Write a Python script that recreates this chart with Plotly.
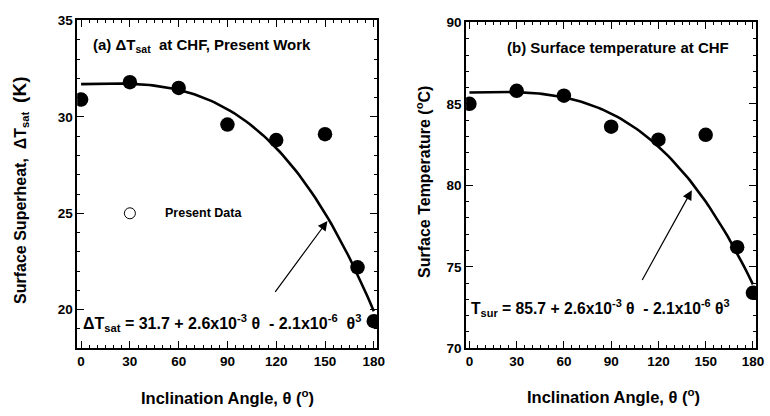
import plotly.graph_objects as go

# ---- data ----
angle = [0, 30, 60, 90, 120, 150, 170, 180]
dT_sat = [30.9, 31.8, 31.5, 29.6, 28.8, 29.1, 22.2, 19.4]
T_sur = [85.0, 85.8, 85.5, 83.6, 82.8, 83.1, 76.2, 73.4]
# fit coefficients as printed in the chart: c0 + c1*theta + c3*theta^3
fit_a = [31.7, 2.6e-3, -2.1e-6]
fit_b = [85.7, 2.6e-3, -2.1e-6]
fit_theta = list(range(0, 181, 2))
x_ticks = [0, 30, 60, 90, 120, 150, 180]
y_ticks_a = [20, 25, 30, 35]
y_ticks_b = [70, 75, 80, 85, 90]

def fit(c, t):
    return c[0] + c[1] * t + c[2] * t ** 3

FONT = "Liberation Sans, Arial, sans-serif"
W, H = 770, 416

fig = go.Figure()
fig.add_trace(go.Scatter(x=fit_theta, y=[fit(fit_a, t) for t in fit_theta], mode="lines",
                         line=dict(color="black", width=2.6), xaxis="x", yaxis="y", showlegend=False))
fig.add_trace(go.Scatter(x=angle, y=dT_sat, mode="markers",
                         marker=dict(color="black", size=14.5), xaxis="x", yaxis="y", showlegend=False))
fig.add_trace(go.Scatter(x=[30], y=[25], mode="markers",
                         marker=dict(color="white", size=11, line=dict(color="black", width=1)),
                         xaxis="x", yaxis="y", showlegend=False))
fig.add_trace(go.Scatter(x=fit_theta, y=[fit(fit_b, t) for t in fit_theta], mode="lines",
                         line=dict(color="black", width=2.6), xaxis="x2", yaxis="y2", showlegend=False))
fig.add_trace(go.Scatter(x=angle, y=T_sur, mode="markers",
                         marker=dict(color="black", size=14.5), xaxis="x2", yaxis="y2", showlegend=False))

def px_x(p):
    return p / W

def px_y(p):
    return 1 - p / H

axis_common = dict(showgrid=False, zeroline=False, showline=True, linecolor="black", linewidth=1.6,
                   mirror="ticks", ticks="inside", ticklen=7, tickwidth=1.4, tickcolor="black",
                   tickfont=dict(family=FONT, size=13.5, color="black", weight="bold"))

fig.update_layout(
    width=W, height=H, margin=dict(l=0, r=0, t=0, b=0),
    paper_bgcolor="white", plot_bgcolor="white",
    xaxis=dict(domain=[px_x(78), px_x(381)], range=[-2.4, 182], tickvals=x_ticks, anchor="y",
               minor=dict(dtick=5, ticks="inside", ticklen=3, tickcolor="black", tickwidth=1), **axis_common),
    yaxis=dict(domain=[px_y(354), px_y(14)], range=[18, 35], tickvals=y_ticks_a, anchor="x",
               minor=dict(dtick=1, ticks="inside", ticklen=3, tickcolor="black", tickwidth=1), **axis_common),
    xaxis2=dict(domain=[px_x(471), px_x(764)], range=[-2.1, 182], tickvals=x_ticks, anchor="y2",
                minor=dict(dtick=5, ticks="inside", ticklen=3, tickcolor="black", tickwidth=1), **axis_common),
    yaxis2=dict(domain=[px_y(354), px_y(16)], range=[70, 90], tickvals=y_ticks_b, anchor="x2",
                minor=dict(dtick=1, ticks="inside", ticklen=3, tickcolor="black", tickwidth=1), **axis_common),
)

bold = dict(family=FONT, color="black", weight="bold")

annotations = [
    # panel titles
    dict(text="(a) ΔT<sub>sat</sub>  at CHF, Present Work", xref="paper", yref="paper",
         x=px_x(92), y=px_y(40), xanchor="left", yanchor="middle", showarrow=False, font=dict(size=15, **bold)),
    dict(text="(b) Surface temperature at CHF", xref="paper", yref="paper",
         x=px_x(510), y=px_y(42), xanchor="left", yanchor="middle", showarrow=False, font=dict(size=15, **bold)),
    # legend text
    dict(text="Present Data", xref="x", yref="y", x=50.5, y=25, xanchor="left", yanchor="middle",
         showarrow=False, font=dict(size=12.5, **bold)),
    # equations
    dict(text="ΔT<sub>sat</sub> = 31.7 + 2.6x10<sup>-3</sup> θ  - 2.1x10<sup>-6</sup>  θ<sup>3</sup>",
         xref="paper", yref="paper", x=px_x(82), y=px_y(328), xanchor="left", yanchor="middle",
         showarrow=False, font=dict(size=16, **bold)),
    dict(text="T<sub>sur</sub> = 85.7 + 2.6x10<sup>-3</sup> θ  - 2.1x10<sup>-6</sup> θ<sup>3</sup>",
         xref="paper", yref="paper", x=px_x(474), y=px_y(312), xanchor="left", yanchor="middle",
         showarrow=False, font=dict(size=15.7, **bold)),
    # axis titles
    dict(text="Surface Superheat,  ΔT<sub>sat</sub>  <span style='font-size:19px'>(K)</span>",
         xref="paper", yref="paper", x=px_x(20), y=px_y(190), textangle=-90,
         xanchor="center", yanchor="middle", showarrow=False, font=dict(size=16, **bold)),
    dict(text="Surface Temperature (<sup>o</sup>C)",
         xref="paper", yref="paper", x=px_x(428), y=px_y(182), textangle=-90,
         xanchor="center", yanchor="middle", showarrow=False, font=dict(size=16, **bold)),
    dict(text="Inclination Angle, θ (<sup>o</sup>)", xref="paper", yref="paper",
         x=px_x(230), y=px_y(405), xanchor="center", yanchor="middle", showarrow=False,
         font=dict(size=16.5, **bold)),
    dict(text="Inclination Angle, θ (<sup>o</sup>)", xref="paper", yref="paper",
         x=px_x(620), y=px_y(404), xanchor="center", yanchor="middle", showarrow=False,
         font=dict(size=16.5, **bold)),
    # arrows
    dict(x=151.5, y=24.6, ax=118.7, ay=20.85, xref="x", yref="y", axref="x", ayref="y", text="",
         showarrow=True, arrowhead=2, arrowsize=1.6, arrowwidth=1.2, arrowcolor="black", standoff=0),
    dict(x=141.2, y=79.7, ax=109.2, ay=74.1, xref="x2", yref="y2", axref="x2", ayref="y2", text="",
         showarrow=True, arrowhead=2, arrowsize=1.6, arrowwidth=1.2, arrowcolor="black", standoff=0),
]
fig.update_layout(annotations=annotations)

fig.write_html("out.html")
